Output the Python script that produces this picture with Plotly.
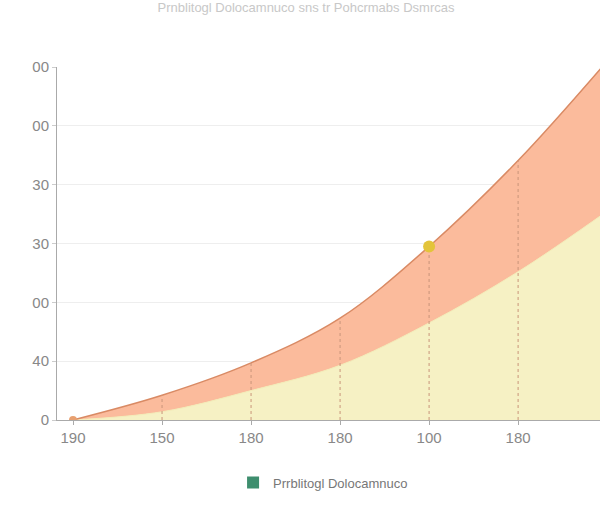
import plotly.graph_objects as go

# Data
x_pos = [0, 1, 2, 3, 4, 5, 6]
x_labels = ["190", "150", "180", "180", "100", "180", "180"]
upper = [0, 0.42, 0.97, 1.73, 2.95, 4.41, 6.1]
lower = [0, 0.14, 0.50, 0.93, 1.65, 2.52, 3.55]
y_ticks = [0, 1, 2, 3, 4, 5, 6]
y_labels = ["0", "40", "00", "30", "30", "00", "00"]
legend_name = "Prrblitogl Dolocamnuco"
title_text = "Prnblitogl Dolocamnuco sns tr Pohcrmabs Dsmrcas"

fig = go.Figure()

# lower yellow area
fig.add_trace(go.Scatter(
    x=x_pos, y=lower, mode="lines", line=dict(color="#F3EDB8", width=1, shape="spline"),
    fill="tozeroy", fillcolor="#F6F1C4", showlegend=False, hoverinfo="skip"))

# upper salmon band
fig.add_trace(go.Scatter(
    x=x_pos, y=upper, mode="lines", line=dict(color="#D98A64", width=1.5, shape="spline"),
    fill="tonexty", fillcolor="#FBBB9C", showlegend=False, hoverinfo="skip"))

# dotted drop lines
dx, dy = [], []
for xi, yi in zip(x_pos[1:6], upper[1:6]):
    dx += [xi, xi, None]
    dy += [0, yi, None]
fig.add_trace(go.Scatter(x=dx, y=dy, mode="lines",
    line=dict(color="#C9957A", width=1, dash="dot"), showlegend=False, hoverinfo="skip"))

# markers
fig.add_trace(go.Scatter(x=[x_pos[0]], y=[upper[0]], mode="markers",
    marker=dict(color="#E8A070", size=8), showlegend=False))
fig.add_trace(go.Scatter(x=[x_pos[4]], y=[upper[4]], mode="markers",
    marker=dict(color="#E3C43A", size=12), showlegend=False))

# legend entry
fig.add_trace(go.Scatter(x=[None], y=[None], mode="markers", name=legend_name,
    marker=dict(color="#3E8E6E", size=10, symbol="square")))

fig.update_layout(
    width=600, height=512,
    margin=dict(l=57, r=0, t=67, b=92),
    paper_bgcolor="white", plot_bgcolor="white",
    font=dict(family="Liberation Sans, Arial, sans-serif", color="#888888"),
    title=dict(text=title_text, x=0.51, xanchor="center", y=0.986, yanchor="middle",
               font=dict(size=13, color="#C8C8C8")),
    showlegend=True,
    legend=dict(orientation="h", x=0.49, xanchor="center", y=-0.135, yanchor="top",
                font=dict(size=13, color="#777777"), itemsizing="constant"),
    xaxis=dict(range=[-0.18, 5.92], tickmode="array", tickvals=x_pos, ticktext=x_labels,
               showgrid=False, zeroline=False, showline=True, linecolor="#AAAAAA", linewidth=1,
               ticks="outside", ticklen=4, tickcolor="#AAAAAA",
               tickfont=dict(size=15, color="#888888")),
    yaxis=dict(range=[0, 6], tickmode="array", tickvals=y_ticks, ticktext=y_labels,
               showgrid=True, gridcolor="#EEEEEE", zeroline=False, showline=True,
               linecolor="#AAAAAA", linewidth=1, ticks="outside", ticklen=4, tickcolor="#CCCCCC",
               tickfont=dict(size=15, color="#888888")),
)

fig.write_html("out.html")
